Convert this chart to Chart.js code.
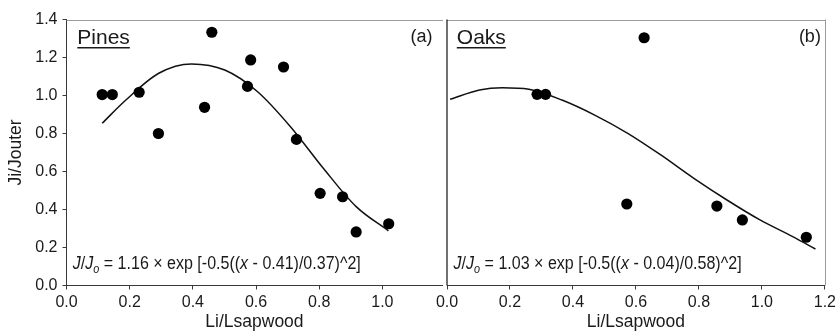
<!DOCTYPE html>
<html>
<head>
<meta charset="utf-8">
<script src="https://cdn.jsdelivr.net/npm/chart.js@4"></script>
<style>
  html, body { margin: 0; padding: 0; background: #fff; }
  #wrap { position: relative; width: 839px; height: 333px; overflow: hidden; background: #fff; }
  canvas { position: absolute; top: 0; }
  #cA { left: 0; }
  #cB { left: 400px; }
</style>
</head>
<body>
<div id="wrap">
  <canvas id="cA" width="448" height="333"></canvas>
  <canvas id="cB" width="439" height="333"></canvas>
</div>
<script>
// ---- data ----
const pinesX = [0.113, 0.145, 0.230, 0.291, 0.437, 0.460, 0.573, 0.583, 0.687, 0.728, 0.803, 0.874, 0.917, 1.020];
const pinesY = [1.005, 1.005, 1.017, 0.800, 0.938, 1.333, 1.048, 1.187, 1.150, 0.769, 0.485, 0.467, 0.282, 0.325];
const pinesCurveX = [0.113, 0.188, 0.292, 0.396, 0.501, 0.605, 0.709, 0.813, 0.917, 1.019];
const pinesCurveY = [0.854, 0.976, 1.117, 1.166, 1.134, 1.020, 0.836, 0.617, 0.415, 0.288];

const oaksX = [0.286, 0.313, 0.571, 0.626, 0.857, 0.938, 1.141];
const oaksY = [1.006, 1.006, 0.429, 1.304, 0.418, 0.345, 0.254];
const oaksCurveX = [0.010, 0.103, 0.176, 0.260, 0.365, 0.469, 0.574, 0.679, 0.784, 0.889, 0.994, 1.098, 1.170];
const oaksCurveY = [0.980, 1.029, 1.041, 1.033, 0.976, 0.897, 0.801, 0.687, 0.564, 0.450, 0.345, 0.257, 0.192];

const yTicksMin = 0.0, yTicksMax = 1.4, tickStep = 0.2;
const xMaxPines = 1.19, xMaxOaks = 1.2;

const panelTitles = ['Pines', 'Oaks'];
const panelTags = ['(a)', '(b)'];
const eqA = [['J', 'i'], ['/', ''], ['J', 'i'], ['o', 'is'], [' = 1.16 × exp [-0.5((', ''], ['x', 'i'], [' - 0.41)/0.37)^2]', '']];
const eqB = [['J', 'i'], ['/', ''], ['J', 'i'], ['o', 'is'], [' = 1.03 × exp [-0.5((', ''], ['x', 'i'], [' - 0.04)/0.58)^2]', '']];
const xTitle = 'Li/Lsapwood';
const yTitle = 'Ji/Jouter';

// ---- drawing ----
const FONT = '"Liberation Sans", Arial, sans-serif';
const TXT = '#1a1a1a';
const AXIS = '#3a3a3a';
const FRAME = '#9a9a9a';

function pts(xs, ys) { return xs.map((x, i) => ({ x: x, y: ys[i] })); }

function drawEquation(ctx, pieces, x0, base, targetW) {
  const size = 17.5;
  const fontFor = (f) => {
    const it = f.indexOf('i') >= 0 ? 'italic ' : '';
    const s = f.indexOf('s') >= 0 ? size * 0.68 : size;
    return it + s + 'px ' + FONT;
  };
  let W = 0;
  const widths = pieces.map(p => { ctx.font = fontFor(p[1]); const w = ctx.measureText(p[0]).width; W += w; return w; });
  const sx = targetW / W;
  ctx.save();
  ctx.translate(x0, base);
  ctx.scale(sx, 1);
  ctx.fillStyle = TXT;
  ctx.textAlign = 'left';
  ctx.textBaseline = 'alphabetic';
  let cx = 0;
  pieces.forEach((p, i) => {
    ctx.font = fontFor(p[1]);
    const dy = p[1].indexOf('s') >= 0 ? 4 : 0;
    ctx.fillText(p[0], cx, dy);
    cx += widths[i];
  });
  ctx.restore();
}

function panelPlugin(idx) {
  return {
    id: 'panel' + idx,
    afterDraw(chart) {
      const ctx = chart.ctx;
      const a = chart.chartArea;
      ctx.save();
      // frame
      ctx.lineWidth = 1;
      ctx.strokeStyle = FRAME;
      ctx.beginPath();
      ctx.moveTo(a.left, Math.round(a.top) + 0.5);
      ctx.lineTo(a.right + 0.5, Math.round(a.top) + 0.5);
      ctx.stroke();
      if (idx === 1) {
        ctx.beginPath();
        ctx.moveTo(Math.round(a.right) + 0.5, a.top);
        ctx.lineTo(Math.round(a.right) + 0.5, a.bottom);
        ctx.stroke();
        ctx.strokeStyle = '#111';
        ctx.lineWidth = 1.2;
        ctx.beginPath();
        ctx.moveTo(a.left, a.top);
        ctx.lineTo(a.left, a.bottom);
        ctx.stroke();
      }
      // panel title, underlined
      ctx.fillStyle = TXT;
      ctx.font = '21px ' + FONT;
      ctx.textAlign = 'left';
      ctx.textBaseline = 'alphabetic';
      const tx = a.left + (idx === 0 ? 10.8 : 9.8);
      ctx.fillText(panelTitles[idx], tx, 43.5);
      const tw = ctx.measureText(panelTitles[idx]).width;
      ctx.strokeStyle = TXT;
      ctx.lineWidth = 1.4;
      ctx.beginPath();
      ctx.moveTo(tx, 47.8);
      ctx.lineTo(tx + tw, 47.8);
      ctx.stroke();
      // tag
      ctx.font = '18px ' + FONT;
      ctx.textAlign = 'right';
      ctx.fillText(panelTags[idx], a.right - (idx === 0 ? 10 : 4), 42);
      ctx.restore();
      // equation
      drawEquation(ctx, idx === 0 ? eqA : eqB, a.left + (idx === 0 ? 6.3 : 6.6), 268.5, 288);
    }
  };
}

function xAxis(maxV) {
  return {
    type: 'linear', min: 0, max: maxV,
    afterFit(s) { s.height = 47.5; },
    ticks: {
      stepSize: tickStep, includeBounds: false, padding: 3,
      color: TXT, font: { family: FONT, size: 16 },
      callback: v => Number(v).toFixed(1)
    },
    grid: { display: true, drawOnChartArea: false, drawTicks: true, tickLength: 4, tickColor: AXIS },
    border: { display: true, color: AXIS, width: 1 },
    title: { display: true, text: xTitle, color: TXT, font: { family: FONT, size: 17.5 }, padding: { top: 0, bottom: 0 } }
  };
}

function datasets(px, py, cx, cy) {
  return [
    {
      label: 'obs', data: pts(px, py), showLine: false,
      pointRadius: 5.6, pointHoverRadius: 5.6, pointBackgroundColor: '#000', pointBorderColor: '#000', pointBorderWidth: 0
    },
    {
      label: 'fit', data: pts(cx, cy), showLine: true, pointRadius: 0,
      borderColor: '#111', borderWidth: 1.5, cubicInterpolationMode: 'monotone', fill: false
    }
  ];
}

const common = {
  responsive: false, animation: false, devicePixelRatio: 1,
  plugins: { legend: { display: false }, tooltip: { enabled: false } },
  events: []
};

new Chart(document.getElementById('cA'), {
  type: 'scatter',
  data: { datasets: datasets(pinesX, pinesY, pinesCurveX, pinesCurveY) },
  options: Object.assign({}, common, {
    layout: { padding: { left: 0, top: 19.5, right: 1, bottom: 0 } },
    scales: {
      x: xAxis(xMaxPines),
      y: {
        type: 'linear', min: yTicksMin, max: yTicksMax,
        afterFit(s) { s.width = 66.5; },
        ticks: {
          stepSize: tickStep, padding: 5, color: TXT, font: { family: FONT, size: 16 },
          callback: v => Number(v).toFixed(1)
        },
        grid: { display: true, drawOnChartArea: false, drawTicks: true, tickLength: 4, tickColor: AXIS },
        border: { display: true, color: AXIS, width: 1 },
        title: { display: true, text: yTitle, color: TXT, font: { family: FONT, size: 17.5 }, padding: { top: 6, bottom: 0 } }
      }
    }
  }),
  plugins: [panelPlugin(0)]
});

new Chart(document.getElementById('cB'), {
  type: 'scatter',
  data: { datasets: datasets(oaksX, oaksY, oaksCurveX, oaksCurveY) },
  options: Object.assign({}, common, {
    layout: { padding: { left: 47, top: 19.5, right: 11, bottom: 0 } },
    scales: {
      x: xAxis(xMaxOaks),
      y: { type: 'linear', min: yTicksMin, max: yTicksMax, display: false }
    }
  }),
  plugins: [panelPlugin(1)]
});
</script>
</body>
</html>
